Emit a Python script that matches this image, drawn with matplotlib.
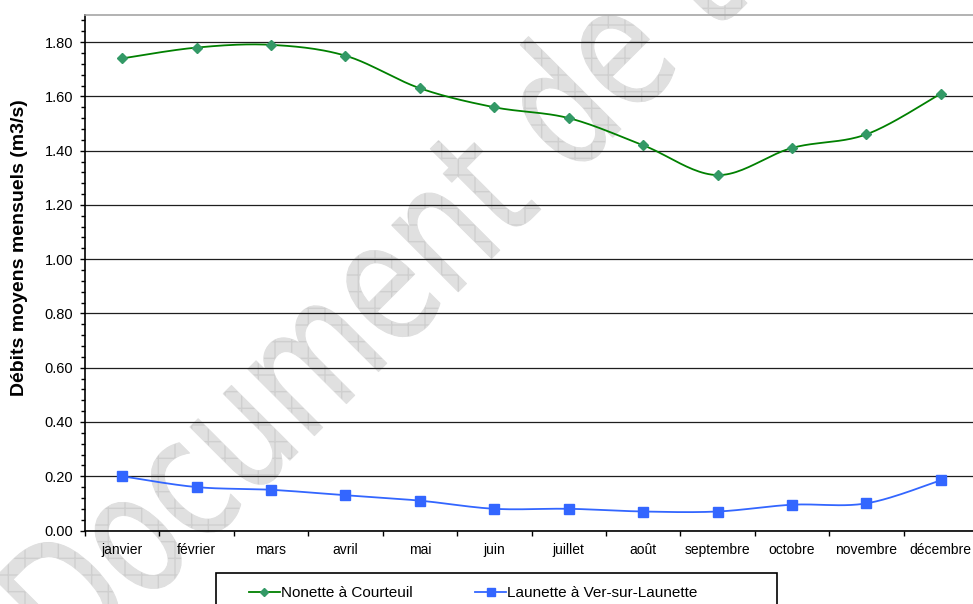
import numpy as np
import matplotlib
matplotlib.use("Agg")
import matplotlib.pyplot as plt
from matplotlib.textpath import TextPath
from matplotlib.patches import PathPatch, Rectangle
from matplotlib.font_manager import FontProperties
from matplotlib.transforms import Affine2D, IdentityTransform
from matplotlib.lines import Line2D
from matplotlib.ticker import FixedLocator, NullFormatter, FixedFormatter, MultipleLocator

# ---- data -------------------------------------------------------------
months = ["janvier", "février", "mars", "avril", "mai", "juin", "juillet",
          "août", "septembre", "octobre", "novembre", "décembre"]
nonette = [1.74, 1.78, 1.79, 1.75, 1.63, 1.56, 1.52, 1.42, 1.31, 1.41, 1.46, 1.61]
launette = [0.20, 0.16, 0.15, 0.13, 0.11, 0.08, 0.08, 0.07, 0.07, 0.095, 0.10, 0.185]
series_names = ["Nonette à Courteuil", "Launette à Ver-sur-Launette"]
y_ticks = [0.0, 0.2, 0.4, 0.6, 0.8, 1.0, 1.2, 1.4, 1.6, 1.8]
y_label = "Débits moyens mensuels (m3/s)"
watermark_text = "Document de travail"

plt.rcParams["font.family"] = ["Liberation Sans", "DejaVu Sans"]

W, H, DPI = 973, 604, 100
fig = plt.figure(figsize=(W / DPI, H / DPI), dpi=DPI)
fig.patch.set_facecolor("white")


def smooth_curve(values, steps=24):
    """Piecewise cubic Bezier through the points (Catmull-Rom control points)."""
    pts = np.column_stack([np.arange(len(values), dtype=float),
                           np.asarray(values, dtype=float)])
    ext = np.vstack([pts[0], pts, pts[-1]])
    t = np.linspace(0.0, 1.0, steps, endpoint=False)[:, None]
    segs = []
    for i in range(len(pts) - 1):
        p0, p1, p2, p3 = ext[i], ext[i + 1], ext[i + 2], ext[i + 3]
        c1 = p1 + (p2 - p0) / 6.0
        c2 = p2 - (p3 - p1) / 6.0
        segs.append((1 - t) ** 3 * p1 + 3 * (1 - t) ** 2 * t * c1
                    + 3 * (1 - t) * t ** 2 * c2 + t ** 3 * p2)
    segs.append(pts[-1][None, :])
    return np.vstack(segs)


# ---- watermark (behind the chart) ---------------------------------------
tp = TextPath((0, 0), watermark_text, size=1,
              prop=FontProperties(family="DejaVu Sans"))
wm_tr = Affine2D().scale(128, 172).rotate_deg(45).translate(74, -72)
wm_path = wm_tr.transform_path(tp)
fig.add_artist(PathPatch(wm_path, facecolor="#e0e0e0", edgecolor="#e0e0e0",
                         lw=0.8, joinstyle="round", capstyle="round",
                         transform=IdentityTransform(), zorder=-2))
fig.add_artist(PathPatch(wm_path, facecolor="#e0e0e0", edgecolor="#cfcfcf",
                         lw=0, hatch="+", transform=IdentityTransform(),
                         zorder=-1))

# ---- axes -------------------------------------------------------------
left, right, bottom, top = 85, 978, 530.5, 15
ax = fig.add_axes([left / W, (H - bottom) / H, (right - left) / W, (bottom - top) / H])
ax.set_facecolor("none")
ax.set_xlim(-0.5, len(months) - 0.5)
ax.set_ylim(0, 1.9)

ax.yaxis.set_major_locator(FixedLocator(y_ticks))
ax.yaxis.set_major_formatter(FixedFormatter([f"{v:.2f}" for v in y_ticks]))
ax.yaxis.set_minor_locator(MultipleLocator(0.04))
ax.tick_params(axis="y", which="major", direction="out", length=3.5, width=1,
               pad=5, labelsize=10.5, colors="black")
ax.tick_params(axis="y", which="minor", direction="out", length=3, width=1)

x = np.arange(len(months))
ax.xaxis.set_major_locator(FixedLocator(np.arange(-0.5, len(months), 1.0)))
ax.xaxis.set_major_formatter(NullFormatter())
ax.xaxis.set_minor_locator(FixedLocator(x))
ax.xaxis.set_minor_formatter(FixedFormatter(months))
ax.tick_params(axis="x", which="major", direction="out", length=3.5, width=1)
ax.tick_params(axis="x", which="minor", length=0, pad=9, labelsize=10)

ax.yaxis.grid(True, which="major", color="#1e1e1e", lw=0.9)
ax.set_axisbelow(True)
for side in ("left", "bottom"):
    ax.spines[side].set_color("black")
    ax.spines[side].set_linewidth(1.2)
ax.spines["top"].set_color("#a6a6a6")
ax.spines["top"].set_linewidth(1.2)
ax.spines["right"].set_visible(False)

ax.set_ylabel(y_label, fontsize=14, fontweight="bold")
ax.yaxis.set_label_coords(-0.064, 0.549)

# ---- series -------------------------------------------------------------
green_line, green_mark = "#008000", "#339966"
blue = "#3366ff"

c1 = smooth_curve(nonette)
ax.plot(c1[:, 0], c1[:, 1], color=green_line, lw=1.3, zorder=3)
ax.plot(x, nonette, ls="none", marker="D", ms=5, color=green_mark, zorder=4)

c2 = smooth_curve(launette)
ax.plot(c2[:, 0], c2[:, 1], color=blue, lw=1.3, zorder=3)
ax.plot(x, launette, ls="none", marker="s", ms=6.5, color=blue, zorder=4)

# ---- legend -------------------------------------------------------------
fig.add_artist(Rectangle((216 / W, (H - 573) / H - 45 / H), 561 / W, 45 / H,
                         transform=fig.transFigure, facecolor="white",
                         edgecolor="black", lw=1.2, zorder=4))
handles = [Line2D([], [], color=green_line, lw=1.3, marker="D", ms=4.5,
                  markerfacecolor=green_mark, markeredgecolor=green_mark),
           Line2D([], [], color=blue, lw=1.3, marker="s", ms=5.5)]
fig.legend(handles, series_names, ncol=2, frameon=False, loc="center left",
           bbox_to_anchor=(249 / W, 1 - 593 / H), bbox_transform=fig.transFigure,
           borderpad=0, borderaxespad=0, handlelength=2.0, handletextpad=0.1,
           columnspacing=4.1, fontsize=11).set_zorder(5)

fig.savefig("out.png", dpi=DPI)
